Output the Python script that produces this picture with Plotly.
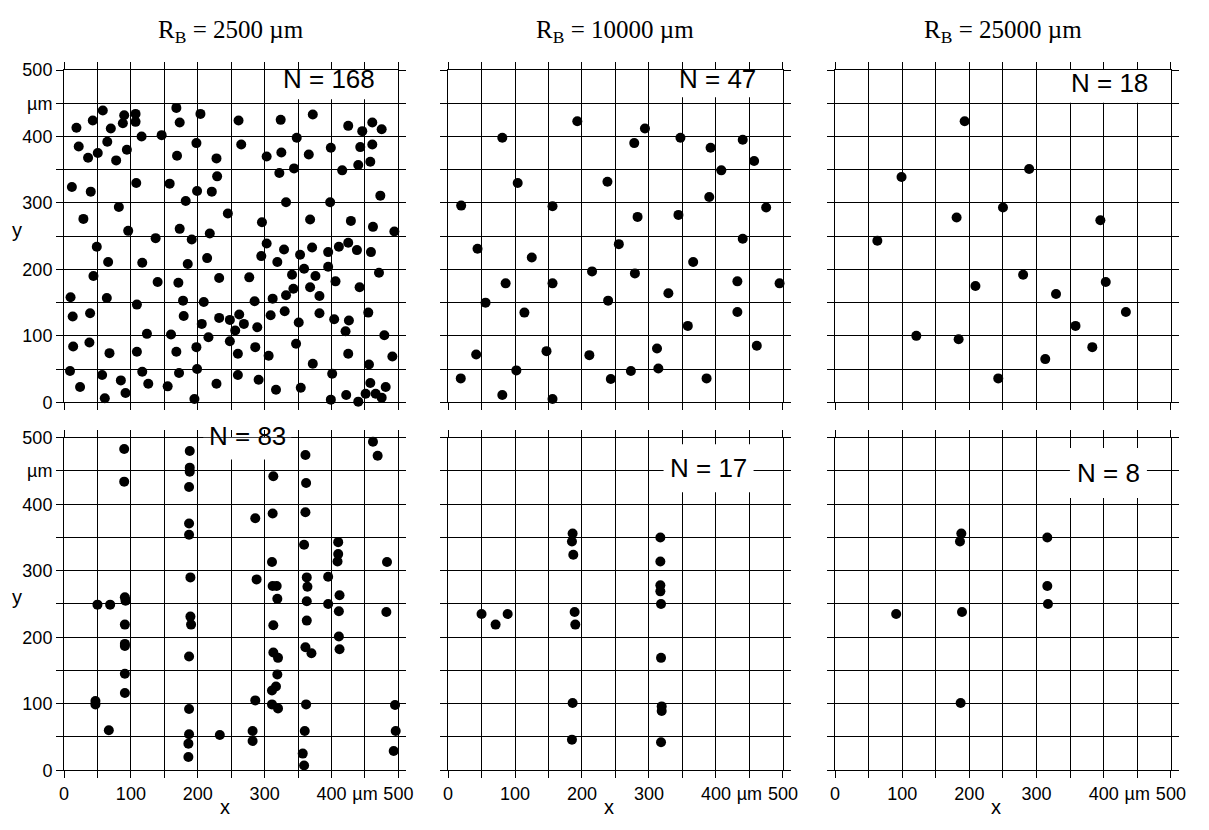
import plotly.graph_objects as go

# Column headings (boundary radius) and point counts per panel
radius_labels = ["R<sub>B</sub> = 2500 µm", "R<sub>B</sub> = 10000 µm", "R<sub>B</sub> = 25000 µm"]
n_labels = ["N = 168", "N = 47", "N = 18", "N = 83", "N = 17", "N = 8"]

# Labelled ticks (the unit sits at 450); unlabelled grid every 50
tick_vals = [0, 100, 200, 300, 400, 450, 500]
tick_text = ["0", "100", "200", "300", "400", "µm", "500"]
grid_step = 50

# Top row: R_B = 2500 µm
top_2500_x = [18.6, 22, 11.8, 36, 43, 40, 29, 58, 50.5, 64.7,
              70, 78, 88, 90, 94, 107, 107, 116, 108, 82,
              96, 49, 44, 66, 117, 9.8, 13, 13.7, 9, 24,
              39, 38, 64, 68, 57, 61, 85, 92, 109, 109,
              124, 117, 126, 137, 140, 146, 158, 160, 155, 168,
              173, 169, 173, 171, 182, 185, 191, 178, 179, 168,
              172, 204, 198, 199, 214, 218, 209, 206, 216, 198,
              199, 195, 221, 228, 229, 232, 232, 228, 245, 248,
              248, 256, 261, 265, 277, 262, 269, 260, 260, 285,
              289, 286, 291, 296, 295, 303, 303, 312, 309, 306,
              317, 324, 325, 322, 332, 319, 329, 344, 348, 341,
              332, 343, 330, 351, 347, 354, 353, 359, 372, 366,
              368, 371, 376, 368, 382, 382, 372, 399, 398, 395,
              395, 406, 404, 401, 399, 416, 425, 411, 425, 429,
              426, 421, 425, 422, 446, 443, 440, 438, 442, 440,
              461, 461, 458, 475, 473, 462, 459, 471, 455, 479,
              456, 458, 451, 466, 475, 481, 491, 494]
top_2500_y = [413, 385, 324, 368, 424, 317, 276, 439, 375, 392,
              412, 364, 420, 432, 380, 434, 422, 400, 330, 294,
              258, 234, 190, 211, 210, 158, 129, 84, 47, 23,
              134, 90, 157, 74, 41, 6, 33, 14, 147, 76,
              103, 46, 28, 247, 181, 402, 329, 102, 24, 443,
              421, 371, 261, 180, 303, 208, 245, 153, 130, 76,
              44, 434, 390, 318, 217, 254, 151, 118, 98, 83,
              50, 5, 317, 367, 340, 187, 127, 28, 284, 124,
              92, 108, 424, 388, 188, 132, 118, 73, 41, 152,
              113, 83, 34, 271, 220, 370, 239, 156, 131, 70,
              19, 425, 376, 345, 301, 211, 230, 352, 398, 192,
              161, 171, 137, 120, 88, 22, 222, 201, 433, 373,
              275, 233, 190, 173, 160, 134, 58, 383, 301, 226,
              204, 182, 125, 43, 4, 349, 416, 234, 240, 273,
              123, 107, 73, 11, 408, 384, 357, 229, 173, 1,
              421, 388, 362, 411, 311, 264, 226, 195, 135, 101,
              57, 29, 13, 13, 7, 23, 69, 257]

# Top row: R_B = 10000 µm
top_10000_x = [193, 294, 81, 278, 347, 392, 440, 457, 408, 104,
               238, 390, 19.6, 156, 283, 344, 475, 440, 44, 125,
               255, 366, 215, 279, 86, 156, 432, 495, 56, 239,
               329, 114, 432, 358, 42, 147, 211, 312, 461, 102,
               273, 314, 19, 243, 386, 81, 156]
top_10000_y = [423, 412, 398, 390, 398, 383, 395, 363, 349, 330,
               332, 309, 296, 295, 279, 282, 293, 246, 231, 218,
               238, 211, 197, 194, 179, 179, 182, 179, 150, 153,
               164, 135, 136, 115, 72, 77, 71, 81, 85, 48,
               47, 51, 36, 35, 36, 11, 5]

# Top row: R_B = 25000 µm
top_25000_x = [193, 99, 289, 250, 181, 395, 63, 280, 209, 403,
               329, 433, 358, 121, 184, 383, 313, 243]
top_25000_y = [423, 339, 351, 293, 278, 274, 243, 192, 175, 181,
               163, 136, 115, 100, 95, 83, 65, 36]

# Bottom row: R_B = 2500 µm
bot_2500_x = [47, 47, 50, 69, 67,
              90, 90, 91, 92, 91, 91, 91, 91, 91,
              188, 188, 188, 187, 187, 187, 189, 189, 190, 187, 187, 187, 186, 186,
              233,
              286, 288, 286, 282, 282,
              313, 312, 311, 312, 318, 319, 313, 313, 320, 319, 317, 311, 311, 320,
              361, 362, 361, 359, 363, 364, 363, 363, 361, 370, 362, 360, 357, 359,
              395, 395,
              410, 410, 409, 412, 411, 411, 412,
              462, 469, 483, 482, 495, 496, 493]
bot_2500_y = [104, 99, 249, 249, 60,
              483, 434, 260, 255, 219, 190, 187, 145, 116,
              480, 455, 449, 426, 371, 354, 290, 231, 219, 171, 92, 54, 40, 20,
              53,
              379, 287, 105, 59, 44,
              442, 386, 313, 277, 277, 258, 218, 177, 169, 144, 126, 120, 99, 93,
              474, 432, 388, 339, 290, 276, 254, 225, 185, 176, 99, 59, 25, 7,
              291, 250,
              343, 325, 314, 263, 239, 201, 182,
              494, 473, 313, 238, 98, 59, 29]

# Bottom row: R_B = 10000 µm
bot_10000_x = [50, 71, 89, 186, 185, 187, 189, 190, 186, 185,
               317, 317, 317, 317, 318, 318, 319, 319, 318]
bot_10000_y = [235, 219, 235, 356, 344, 324, 238, 219, 101, 46,
               350, 314, 278, 269, 250, 169, 96, 89, 42]

# Bottom row: R_B = 25000 µm
bot_25000_x = [91, 188, 186, 189, 187, 316, 316, 317]
bot_25000_y = [235, 356, 344, 238, 101, 350, 277, 250]

panels = [(top_2500_x, top_2500_y), (top_10000_x, top_10000_y), (top_25000_x, top_25000_y),
          (bot_2500_x, bot_2500_y), (bot_10000_x, bot_10000_y), (bot_25000_x, bot_25000_y)]

# Page geometry (pixels)
W, H = 1209, 830
AXIS_MAX = 500
col_px = [(60, 400), (450.5, 791), (844, 1185.5)]
row_px = [(61.5, 402), (438.3, 779)]

# Count label placement: data x, data y, white box width/height in pixels
n_box = [(397, 486, 114, 40), (402, 487, 95, 37), (409, 481, 97, 40),
         (274, 502, 88, 46), (389, 454, 90, 48), (407, 447, 77, 50)]

sans = "Liberation Sans, Arial, Helvetica, sans-serif"
serif = "Liberation Serif, Times New Roman, serif"

fig = go.Figure()
annotations = []
shapes = []
layout_axes = {}

for i, (xs, ys) in enumerate(panels):
    r, c = divmod(i, 3)
    k = "" if i == 0 else str(i + 1)
    fig.add_trace(go.Scatter(
        x=xs, y=ys, mode="markers",
        xaxis="x" + k, yaxis="y" + k,
        marker=dict(color="black", size=10, line=dict(width=0)),
        cliponaxis=False, showlegend=False, hoverinfo="skip",
    ))
    common = dict(
        range=[0, AXIS_MAX], tickmode="array", tickvals=tick_vals, ticktext=tick_text,
        ticks="outside", ticklen=7, tickwidth=1, tickcolor="black",
        showgrid=True, gridcolor="black", gridwidth=1,
        minor=dict(tick0=0, dtick=grid_step, ticks="outside", ticklen=7, tickwidth=1,
                   tickcolor="black", showgrid=True, gridcolor="black", gridwidth=1),
        showline=True, linecolor="black", linewidth=1, mirror="ticks",
        zeroline=False, tickangle=0, fixedrange=True,
        tickfont=dict(family=sans, size=18, color="black"),
    )
    x0, x1 = col_px[c]
    y0, y1 = row_px[r]
    layout_axes["xaxis" + k] = dict(domain=[x0 / W, x1 / W], anchor="y" + k,
                                    showticklabels=(r == 1), **common)
    layout_axes["yaxis" + k] = dict(domain=[1 - y1 / H, 1 - y0 / H], anchor="x" + k,
                                    showticklabels=(c == 0), **common)

    # White patch behind the count label, hiding the grid there
    bx, by, bw, bh = n_box[i]
    shapes.append(dict(
        type="rect", xref="x" + k, yref="y" + k,
        xsizemode="pixel", ysizemode="pixel", xanchor=bx, yanchor=by,
        x0=-bw / 2, x1=bw / 2, y0=-bh / 2, y1=bh / 2,
        fillcolor="white", line=dict(width=0), layer="above",
    ))
    # Annotations anchored outside the axis range are not drawn, so anchor
    # inside the range and shift the rest of the way in pixels
    px_per_unit = (y1 - y0) / AXIS_MAX
    ay = min(by, AXIS_MAX)
    annotations.append(dict(
        x=bx, y=ay, yshift=(by - ay) * px_per_unit,
        xref="x" + k, yref="y" + k, text=n_labels[i], showarrow=False,
        font=dict(family=sans, size=26, color="black"),
        xanchor="center", yanchor="middle",
    ))

    if r == 0:
        annotations.append(dict(
            x=(x0 + x1) / 2 / W, y=1 - 22 / H, xref="paper", yref="paper",
            text=radius_labels[c], showarrow=False,
            font=dict(family=serif, size=25, color="black"),
            xanchor="center", yanchor="middle",
        ))
    if r == 1:
        annotations.append(dict(
            x=240, y=1 - 817 / H, xref="x" + k, yref="paper", text="x", showarrow=False,
            font=dict(family=sans, size=20, color="black"),
            xanchor="center", yanchor="middle",
        ))
    if c == 0:
        annotations.append(dict(
            x=12 / W, y=260, xref="paper", yref="y" + k, text="y", showarrow=False,
            font=dict(family=sans, size=20, color="black"),
            xanchor="center", yanchor="middle",
        ))

fig.update_layout(
    width=W, height=H,
    margin=dict(l=0, r=0, t=0, b=0),
    paper_bgcolor="white", plot_bgcolor="white",
    annotations=annotations,
    shapes=shapes,
    **layout_axes,
)

fig.write_html("out.html")
